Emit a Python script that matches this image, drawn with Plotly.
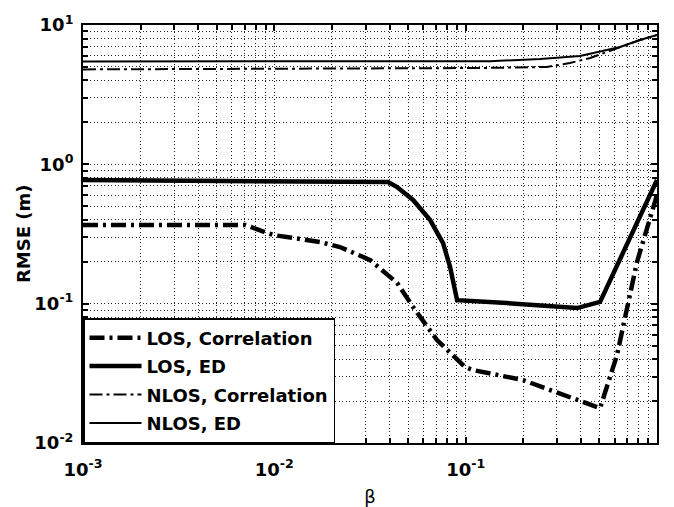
import plotly.graph_objects as go

# RMSE versus beta, four estimator/channel cases
beta_los_corr = [0.001, 0.00703, 0.00985, 0.0173, 0.022, 0.0316, 0.0438, 0.0531,
                 0.0708, 0.0992, 0.109, 0.1995, 0.276, 0.504, 0.618, 0.786, 1.0]
rmse_los_corr = [0.367, 0.367, 0.311, 0.277, 0.255, 0.206, 0.141, 0.0946,
                 0.0548, 0.0351, 0.0334, 0.0283, 0.024, 0.0178, 0.0428, 0.199, 0.603]

beta_los_ed = [0.001, 0.0141, 0.0393, 0.0438, 0.0531, 0.0652, 0.0762, 0.0829,
               0.0902, 0.164, 0.382, 0.504, 1.0]
rmse_los_ed = [0.772, 0.76, 0.746, 0.687, 0.555, 0.398, 0.272, 0.183,
               0.106, 0.101, 0.093, 0.103, 0.772]

beta_nlos_corr = [0.001, 0.119, 0.266, 0.351, 0.447, 0.641, 0.815, 1.0]
rmse_nlos_corr = [4.80, 4.91, 5.0, 5.34, 5.8, 6.95, 7.8, 8.47]

beta_nlos_ed = [0.001, 0.134, 0.245, 0.396, 0.641, 0.815, 1.0]
rmse_nlos_ed = [5.47, 5.5, 5.7, 6.0, 6.95, 7.8, 8.47]

x_major = [1e-3, 1e-2, 1e-1, 1e0]
x_major_text = ["10<sup>-3</sup>", "10<sup>-2</sup>", "10<sup>-1</sup>", "10<sup>0</sup>"]
y_major = [1e-2, 1e-1, 1e0, 1e1]
y_major_text = ["10<sup>-2</sup>", "10<sup>-1</sup>", "10<sup>0</sup>", "10<sup>1</sup>"]
minor_vals = [m * 10.0 ** e for e in range(-3, 1) for m in range(2, 10)]

FONT = "DejaVu Sans"

series = [
    ("LOS, Correlation", beta_los_corr, rmse_los_corr, 4.5, "15px,5px,3px,5px"),
    ("LOS, ED", beta_los_ed, rmse_los_ed, 4.5, "solid"),
    ("NLOS, Correlation", beta_nlos_corr, rmse_nlos_corr, 2, "13px,4px,3px,4px"),
    ("NLOS, ED", beta_nlos_ed, rmse_nlos_ed, 2, "solid"),
]

fig = go.Figure()
for i, (name, xs, ys, w, dash) in enumerate(series):
    fig.add_trace(go.Scatter(
        x=xs, y=ys, mode="lines", name=name, legendgroup=f"g{i}",
        line=dict(color="black", width=w, dash=dash),
    ))

grid_dash = "1px,2.5px"
axis_common = dict(
    type="log",
    showline=True, linecolor="black", linewidth=2, mirror="ticks",
    ticks="inside", ticklen=6, tickwidth=1.5, tickcolor="black",
    showgrid=True, gridcolor="#222", gridwidth=1, griddash=grid_dash,
    zeroline=False,
    tickfont=dict(family=FONT, size=18, color="black", weight="bold"),
)

fig.update_xaxes(
    **axis_common,
    range=[-3, 0],
    ticklabelstandoff=9,
    tickmode="array", tickvals=x_major, ticktext=x_major_text,
    minor=dict(tickmode="array", tickvals=minor_vals, ticks="inside", ticklen=5,
               tickcolor="black", showgrid=True, gridcolor="#222", griddash=grid_dash),
    title=dict(text="β", font=dict(family=FONT, size=18, color="black"), standoff=12),
)
fig.update_yaxes(
    **axis_common,
    range=[-2, 1],
    ticklabelstandoff=4,
    tickmode="array", tickvals=y_major, ticktext=y_major_text,
    minor=dict(tickmode="array", tickvals=[v * 10 for v in minor_vals] + minor_vals,
               ticks="inside", ticklen=5,
               tickcolor="black", showgrid=True, gridcolor="#222", griddash=grid_dash),
)

# y-axis title placed as a rotated annotation
fig.add_annotation(
    text="RMSE (m)", textangle=-90, showarrow=False,
    xref="paper", yref="paper", x=-60 / 574, y=0.5, xanchor="center", yanchor="middle",
    font=dict(family=FONT, size=18, color="black", weight="bold"),
)

fig.update_layout(
    width=674, height=507,
    margin=dict(l=83, r=17, t=25, b=64, autoexpand=False),
    paper_bgcolor="white", plot_bgcolor="white",
    showlegend=True,
    legend=dict(
        x=0, y=0, xanchor="left", yanchor="bottom",
        bgcolor="white", bordercolor="black", borderwidth=1.5,
        font=dict(family=FONT, size=18, color="black", weight="bold"),
        tracegroupgap=2, itemwidth=52,
    ),
)

fig.write_html("out.html")
